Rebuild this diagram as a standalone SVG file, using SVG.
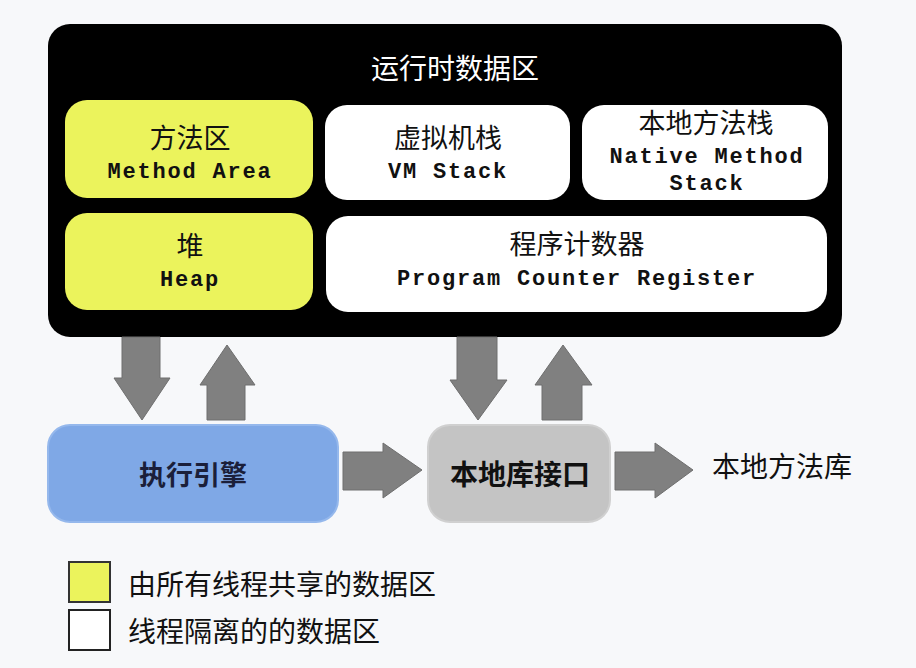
<svg xmlns="http://www.w3.org/2000/svg" width="916" height="668" viewBox="0 0 916 668">
<style>
.cjk{font-family:"Noto Sans CJK SC","Noto Sans",sans-serif;text-anchor:middle}
.mono{font-family:"Liberation Mono","DejaVu Sans Mono",monospace;font-weight:bold;font-size:22px;letter-spacing:1.8px;text-anchor:middle;fill:#111}
.shared{fill:#ebf35c}
.isolated{fill:#ffffff}
.arrow{fill:#808080;stroke:#6e6e6e;stroke-width:1}
</style>
<rect width="916" height="668" fill="#f7f8fa"/>
<g id="runtime-data-area">
<rect x="48" y="24" width="794" height="313" rx="22" fill="#000"/>
<text class="cjk" x="455" y="79" font-size="28" fill="#fff">运行时数据区</text>
</g>
<g id="method-area">
<rect class="shared" x="65" y="100" width="248" height="98" rx="22"/>
<text class="cjk" x="190" y="148" font-size="27" fill="#111">方法区</text>
<text class="mono" x="190" y="178">Method Area</text>
</g>
<g id="vm-stack">
<rect class="isolated" x="325" y="105" width="245" height="95" rx="22"/>
<text class="cjk" x="448" y="148" font-size="27" fill="#111">虚拟机栈</text>
<text class="mono" x="448" y="178">VM Stack</text>
</g>
<g id="native-method-stack">
<rect class="isolated" x="582" y="105" width="246" height="95" rx="22"/>
<text class="cjk" x="706" y="133" font-size="27" fill="#111">本地方法栈</text>
<text class="mono" x="707" y="163">Native Method</text>
<text class="mono" x="707" y="190">Stack</text>
</g>
<g id="heap">
<rect class="shared" x="65" y="213" width="248" height="97" rx="22"/>
<text class="cjk" x="190" y="256" font-size="27" fill="#111">堆</text>
<text class="mono" x="190" y="286">Heap</text>
</g>
<g id="program-counter-register">
<rect class="isolated" x="326" y="216" width="501" height="96" rx="22"/>
<text class="cjk" x="577" y="254" font-size="27" fill="#111">程序计数器</text>
<text class="mono" x="577" y="285">Program Counter Register</text>
</g>
<g id="execution-engine">
<rect x="48" y="425" width="290" height="97" rx="22" fill="#7fa8e6" stroke="#95b8ec" stroke-width="2"/>
<text class="cjk" x="193" y="485" font-size="27" font-weight="bold" fill="#1b1f3a">执行引擎</text>
</g>
<g id="native-interface">
<rect x="428" y="425" width="182" height="97" rx="22" fill="#c4c4c4" stroke="#d0d0d0" stroke-width="2"/>
<text class="cjk" x="520" y="485" font-size="28" font-weight="bold" fill="#111">本地库接口</text>
</g>
<g id="native-method-library">
<text class="cjk" x="782" y="477" font-size="28" fill="#111">本地方法库</text>
</g>
<g id="connectors">
<polygon class="arrow" points="122,337 160,337 160,378 170,378 142,420 114,378 122,378"/>
<polygon class="arrow" points="227,345 255,385 245,385 245,420 207,420 207,385 200,385"/>
<polygon class="arrow" points="457,337 497,337 497,380 507,380 478,420 450,380 457,380"/>
<polygon class="arrow" points="563,345 592,385 582,385 582,420 542,420 542,385 535,385"/>
<polygon class="arrow" points="343,452 383,452 383,443 422,470 383,498 383,490 343,490"/>
<polygon class="arrow" points="615,452 655,452 655,443 693,470 655,498 655,490 615,490"/>
</g>
<g id="legend">
<rect x="69" y="562" width="41" height="40" fill="#ebf35c" stroke="#333" stroke-width="2"/>
<rect x="69" y="610" width="41" height="40" fill="#fff" stroke="#222" stroke-width="2"/>
<text class="cjk" x="128" y="595" font-size="28" fill="#111" style="text-anchor:start">由所有线程共享的数据区</text>
<text class="cjk" x="128" y="642" font-size="28" fill="#111" style="text-anchor:start">线程隔离的的数据区</text>
</g>
</svg>
